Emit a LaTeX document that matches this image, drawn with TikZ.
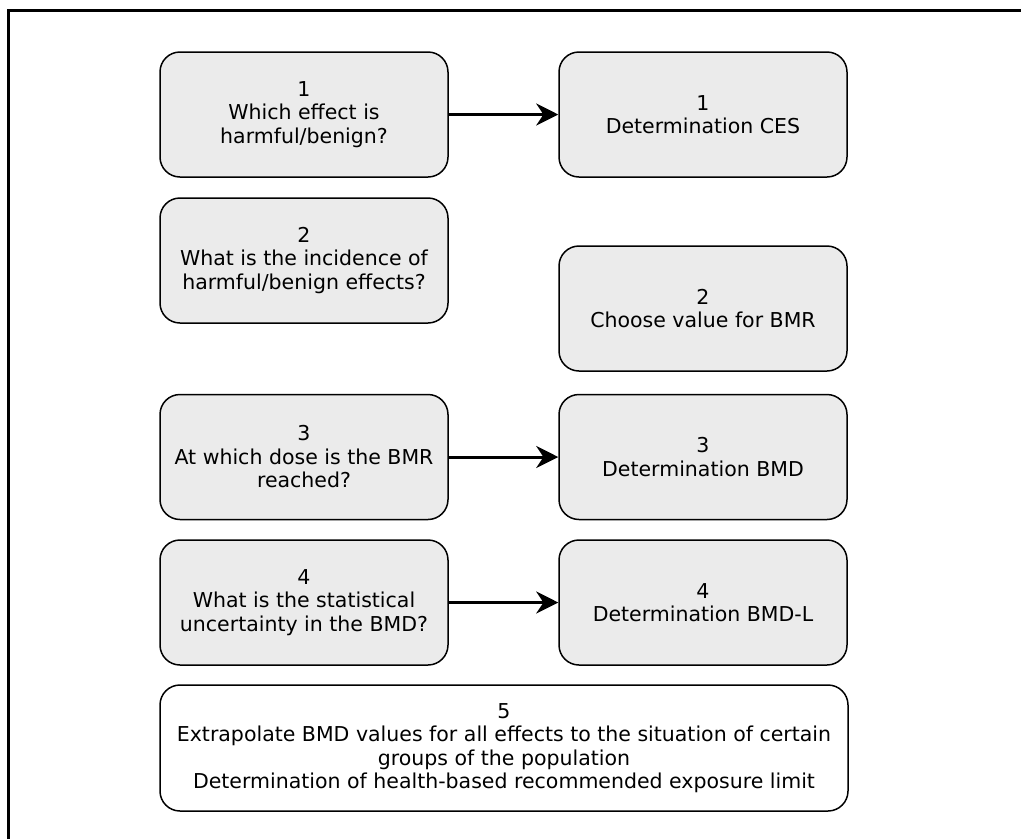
\documentclass[tikz,border=0pt]{standalone}
\usepackage{fontspec}
\setmainfont{DejaVu Sans}
\usetikzlibrary{arrows.meta}
\definecolor{boxgray}{HTML}{EBEBEB}
\tikzstyle{every node}+=[inner sep=0pt]
\tikzstyle{stepbox}=[draw, rounded corners=20, fill=boxgray, line width=1.5,
  minimum width=288, minimum height=125, align=center,
  font=\fontsize{20.5}{23.5}\selectfont]
\tikzstyle{conn}=[line width=3, -{Stealth[length=22, width=22]}]

\begin{document}
\begin{tikzpicture}[x=1pt, y=-1pt]
        \useasboundingbox (0,0) rectangle (1021,839);
        % frame
        \draw [line width=3] (8,839) -- (8,10) -- (1021,10);
        % questions
        \node [stepbox] (q1) at (304,114.5) {1\\Which effect is\\harmful/benign?};
        \node [stepbox] (q2) at (304,260.5) {2\\What is the incidence of\\harmful/benign effects?};
        \node [stepbox] (q3) at (304,457) {3\\At which dose is the BMR\\reached?};
        \node [stepbox] (q4) at (304,602.5) {4\\What is the statistical\\uncertainty in the BMD?};
        % determinations
        \node [stepbox] (d1) at (703,114.5) {1\\Determination CES};
        \node [stepbox] (d2) at (703,308.5) {2\\Choose value for BMR};
        \node [stepbox] (d3) at (703,457) {3\\Determination BMD};
        \node [stepbox] (d4) at (703,602.5) {4\\Determination BMD-L};
        % final step
        \node [stepbox, fill=white, minimum width=688, minimum height=126] (s5) at (504,748)
          {5\\Extrapolate BMD values for all effects to the situation of certain\\groups of the population\\Determination of health-based recommended exposure limit};
        \draw [conn] (q1) -- (d1);
        \draw [conn] (q3) -- (d3);
        \draw [conn] (q4) -- (d4);
\end{tikzpicture}
\end{document}
